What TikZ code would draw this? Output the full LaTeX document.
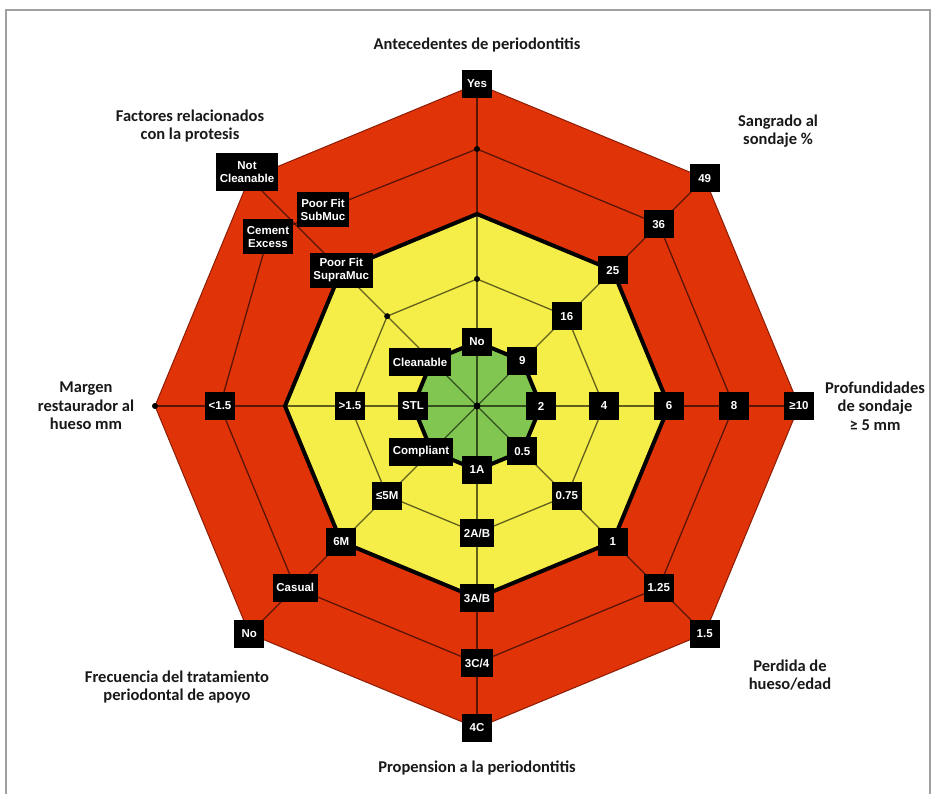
\documentclass[tikz,border=0pt]{standalone}
\usepackage{fontspec}
\setmainfont{Carlito}
\newfontfamily\valfont{Liberation Sans}
\definecolor{zred}{RGB}{224,52,8}
\definecolor{zredline}{RGB}{140,28,4}
\definecolor{zyellow}{RGB}{246,238,72}
\definecolor{zgreen}{RGB}{128,198,80}
\definecolor{zframe}{RGB}{160,160,160}
\definecolor{zink}{RGB}{25,25,25}
\tikzset{
  val/.style={fill=black, text=white, inner xsep=3.5pt, inner ysep=4pt,
    minimum width=30pt, minimum height=28pt, align=center,
    font=\valfont\bfseries\fontsize{11.5}{12.5}\selectfont},
  val2/.style={val, minimum height=35pt},
  cat/.style={align=center, text=zink,
    font=\bfseries\fontsize{16.5}{18.5}\selectfont},
  gridline/.style={black, opacity=0.6, line width=1.3pt},
  band/.style={black, line width=4pt, line join=miter},
  pin/.style={circle, fill=black, inner sep=0pt, minimum size=6pt}
}
\begin{document}
\begin{tikzpicture}[x=1pt, y=-1pt]
\useasboundingbox (0,0) rectangle (931,794);
\fill[white] (0,0) rectangle (931,794);
% page frame
\draw[zframe, line width=1.6pt] (6,800) -- (6,10) -- (930,10) -- (930,800);

\begin{scope}[shift={(477,406)}]
  % ring points: axis i (clockwise from top), level k
  \foreach \i in {0,...,7}{
    \foreach \k/\r in {1/64,2/127,3/192,4/257,5/322}{
      \coordinate (p\i-\k) at (-90+45*\i:\r);
    }
  }
  \coordinate (C) at (0,0);
  \coordinate (sub) at (-154,-196);
  \coordinate (cem) at (-209,-169);
  \coordinate (notc) at (-230,-234);
  \coordinate (clean) at (-57,-44);
  \coordinate (compl) at (-56,46);

  % coloured zones
  \fill[zred] (p0-5) \foreach \i in {1,...,7}{ -- (p\i-5)} -- cycle;
  \draw[zredline, line width=1pt] (p0-5) \foreach \i in {1,...,7}{ -- (p\i-5)} -- cycle;
  \fill[zyellow] (p0-3) \foreach \i in {1,...,7}{ -- (p\i-3)} -- cycle;
  \fill[zgreen] (p0-1) \foreach \i in {1,...,7}{ -- (p\i-1)} -- cycle;

  % thin rings
  \draw[gridline] (p0-2) \foreach \i in {1,...,7}{ -- (p\i-2)} -- cycle;
  \draw[gridline] (p0-4) -- (p1-4) -- (p2-4) -- (p3-4) -- (p4-4) -- (p5-4)
    -- (p6-4) -- (cem) -- (sub) -- cycle;

  % axes
  \foreach \i in {0,...,7}{ \draw[gridline] (C) -- (p\i-5); }

  % zone borders
  \draw[band] (p0-1) \foreach \i in {1,...,7}{ -- (p\i-1)} -- cycle;
  \draw[band] (p0-3) \foreach \i in {1,...,7}{ -- (p\i-3)} -- cycle;

  % unlabelled points
  \node[pin, minimum size=7pt] (c0) at (C) {};
  \node[pin] (d0-2) at (p0-2) {};
  \node[pin] (d0-4) at (p0-4) {};
  \node[pin] (d7-2) at (p7-2) {};
  \node[pin] (d6-5) at (p6-5) {};

  % Antecedentes de periodontitis
  \node[val] (b0-1) at (p0-1) {No};
  \node[val] (b0-5) at (p0-5) {Yes};
  % Sangrado al sondaje
  \node[val] (b1-1) at (p1-1) {9};
  \node[val] (b1-2) at (p1-2) {16};
  \node[val] (b1-3) at (p1-3) {25};
  \node[val] (b1-4) at (p1-4) {36};
  \node[val] (b1-5) at (p1-5) {49};
  % Profundidades de sondaje
  \node[val] (b2-1) at (p2-1) {2};
  \node[val] (b2-2) at (p2-2) {4};
  \node[val] (b2-3) at (p2-3) {6};
  \node[val] (b2-4) at (p2-4) {8};
  \node[val] (b2-5) at (p2-5) {≥10};
  % Perdida de hueso/edad
  \node[val] (b3-1) at (p3-1) {0.5};
  \node[val] (b3-2) at (p3-2) {0.75};
  \node[val] (b3-3) at (p3-3) {1};
  \node[val] (b3-4) at (p3-4) {1.25};
  \node[val] (b3-5) at (p3-5) {1.5};
  % Propension a la periodontitis
  \node[val] (b4-1) at (p4-1) {1A};
  \node[val] (b4-2) at (p4-2) {2A/B};
  \node[val] (b4-3) at (p4-3) {3A/B};
  \node[val] (b4-4) at (p4-4) {3C/4};
  \node[val] (b4-5) at (p4-5) {4C};
  % Frecuencia del tratamiento periodontal de apoyo
  \node[val] (b5-1) at (compl) {Compliant};
  \node[val] (b5-2) at (p5-2) {≤5M};
  \node[val] (b5-3) at (p5-3) {6M};
  \node[val] (b5-4) at (p5-4) {Casual};
  \node[val] (b5-5) at (p5-5) {No};
  % Margen restaurador al hueso
  \node[val] (b6-1) at (p6-1) {STL};
  \node[val] (b6-2) at (p6-2) {>1.5};
  \node[val] (b6-4) at (p6-4) {<1.5};
  % Factores relacionados con la protesis
  \node[val] (b7-1) at (clean) {Cleanable};
  \node[val2] (b7-3) at (p7-3) {Poor Fit\\SupraMuc};
  \node[val2] (b7-4b) at (cem) {Cement\\Excess};
  \node[val2] (b7-4a) at (sub) {Poor Fit\\SubMuc};
  \node[val2, minimum height=38pt] (b7-5) at (notc) {Not\\Cleanable};
\end{scope}

% axis titles
\node[cat] (t0) at (477,45) {Antecedentes de periodontitis};
\node[cat] (t1) at (778,131) {Sangrado al\\sondaje \%};
\node[cat] (t2) at (875,406) {Profundidades\\de sondaje\\≥ 5 mm};
\node[cat] (t3) at (790,675) {Perdida de\\hueso/edad};
\node[cat] (t4) at (477,768) {Propension a la periodontitis};
\node[cat] (t5) at (177,687) {Frecuencia del tratamiento\\periodontal de apoyo};
\node[cat] (t6) at (86,406) {Margen\\restaurador al\\hueso mm};
\node[cat] (t7) at (190,126) {Factores relacionados\\con la protesis};
\end{tikzpicture}
\end{document}
